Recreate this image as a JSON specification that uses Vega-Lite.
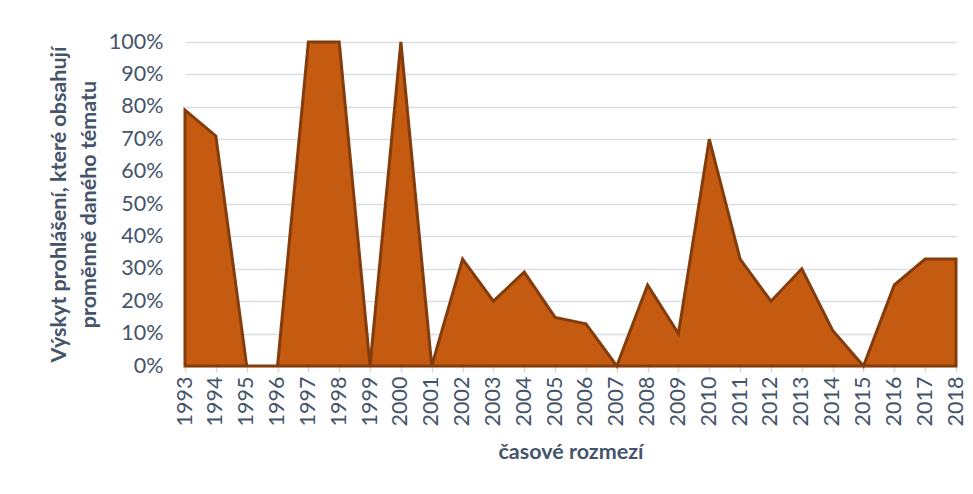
{
  "$schema": "https://vega.github.io/schema/vega-lite/v6.json",
  "autosize": "none",
  "width": 771,
  "height": 324,
  "padding": {"left": 185, "top": 42, "right": 17, "bottom": 128},
  "background": "white",
  "config": {
    "view": {"stroke": null},
    "font": "Lato",
    "axis": {
      "labelFont": "Lato",
      "titleFont": "Lato",
      "labelColor": "#44546A",
      "titleColor": "#44546A",
      "labelFontSize": 21.5,
      "titleFontSize": 21.5,
      "titleFontWeight": "bold"
    }
  },
  "data": {
    "values": [
      {"year": "1993", "share": 0.79},
      {"year": "1994", "share": 0.71},
      {"year": "1995", "share": 0.0},
      {"year": "1996", "share": 0.0},
      {"year": "1997", "share": 1.0},
      {"year": "1998", "share": 1.0},
      {"year": "1999", "share": 0.0},
      {"year": "2000", "share": 1.0},
      {"year": "2001", "share": 0.0},
      {"year": "2002", "share": 0.33},
      {"year": "2003", "share": 0.2},
      {"year": "2004", "share": 0.29},
      {"year": "2005", "share": 0.15},
      {"year": "2006", "share": 0.13},
      {"year": "2007", "share": 0.0},
      {"year": "2008", "share": 0.25},
      {"year": "2009", "share": 0.1},
      {"year": "2010", "share": 0.7},
      {"year": "2011", "share": 0.33},
      {"year": "2012", "share": 0.2},
      {"year": "2013", "share": 0.3},
      {"year": "2014", "share": 0.11},
      {"year": "2015", "share": 0.0},
      {"year": "2016", "share": 0.25},
      {"year": "2017", "share": 0.33},
      {"year": "2018", "share": 0.33}
    ]
  },
  "mark": {
    "type": "area",
    "color": "#C55A11",
    "fillOpacity": 1,
    "stroke": "#843C0C",
    "strokeWidth": 3
  },
  "encoding": {
    "x": {
      "field": "year",
      "type": "ordinal",
      "sort": null,
      "scale": {"type": "point", "padding": 0},
      "axis": {
        "title": "časové rozmezí",
        "labelAngle": -90,
        "labelPadding": 4,
        "domainColor": "#D9D9D9",
        "domainWidth": 1.5,
        "tickColor": "#D9D9D9",
        "tickWidth": 1.5,
        "tickSize": 6,
        "grid": false,
        "titlePadding": 16
      }
    },
    "y": {
      "field": "share",
      "type": "quantitative",
      "scale": {"domain": [0, 1], "nice": false, "zero": true},
      "axis": {
        "title": ["Výskyt prohlášení, které obsahují", "proměnně daného tématu"],
        "titleLineHeight": 30,
        "format": ".0%",
        "values": [0, 0.1, 0.2, 0.3, 0.4, 0.5, 0.6, 0.7, 0.8, 0.9, 1.0],
        "domain": false,
        "ticks": false,
        "labelPadding": 22,
        "gridColor": "#D9DEE6",
        "gridWidth": 1.5,
        "titlePadding": 8
      }
    }
  }
}
